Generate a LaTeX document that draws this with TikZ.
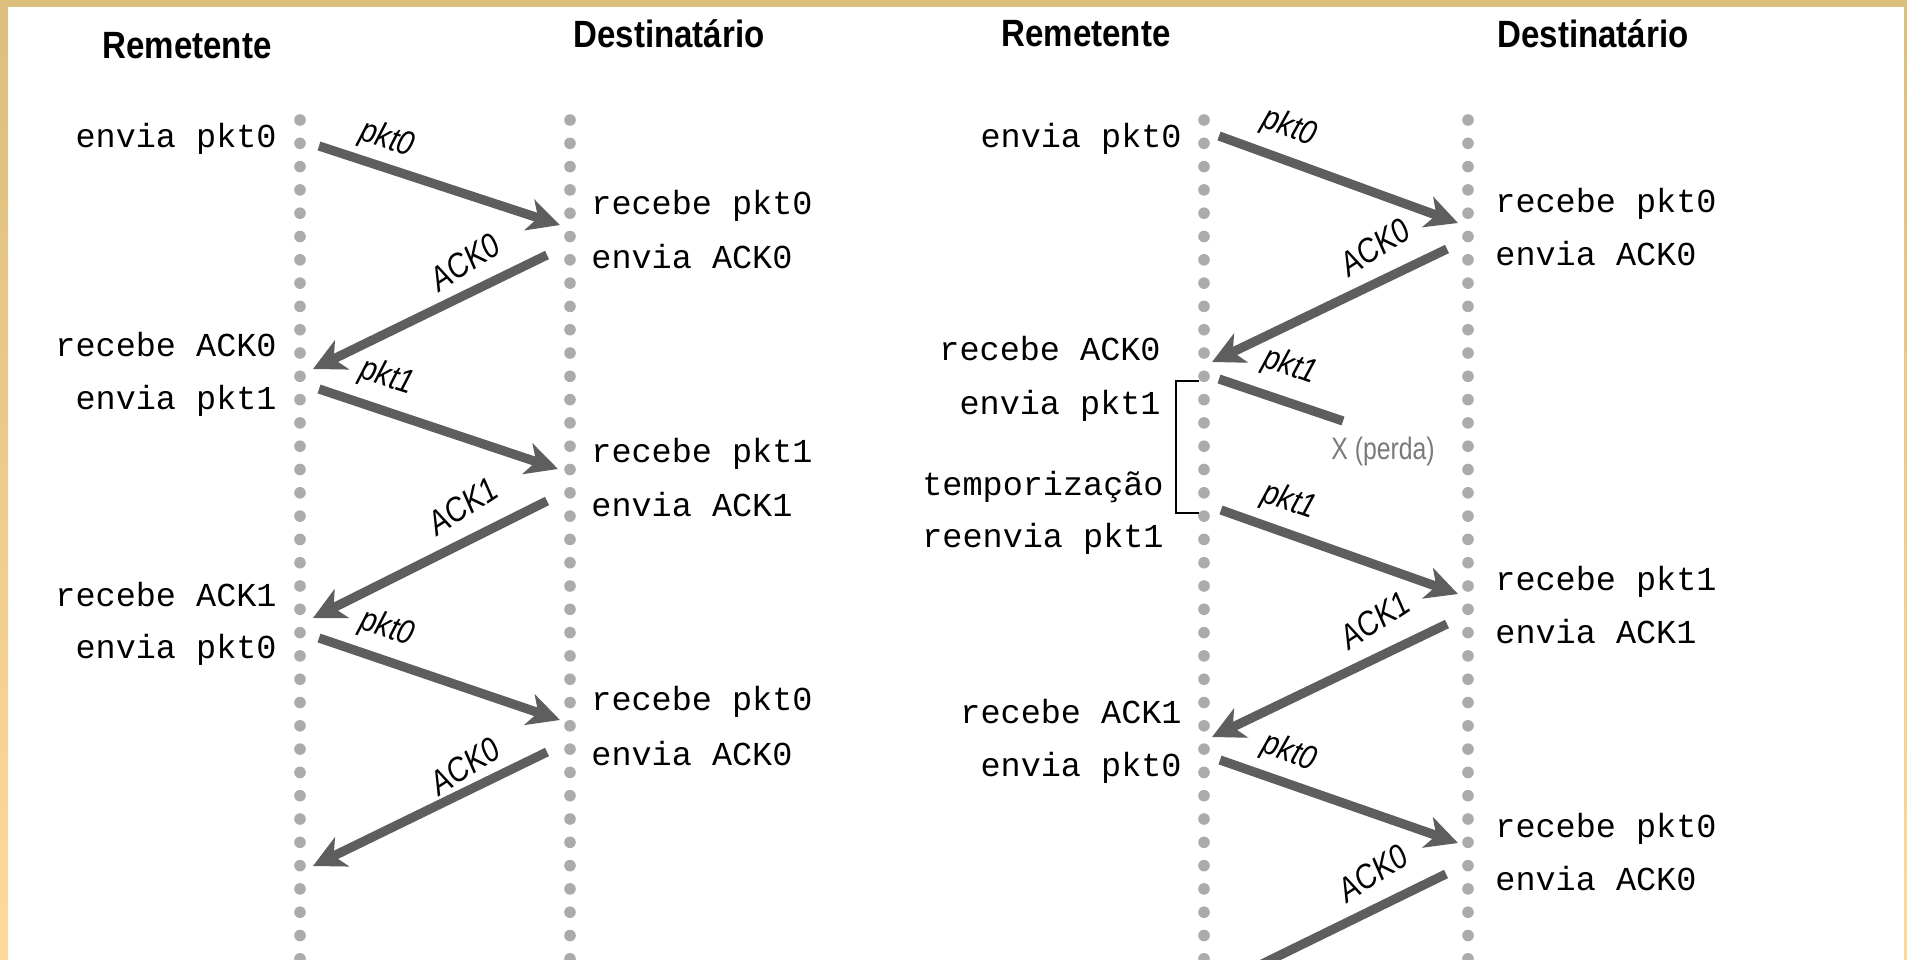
\documentclass[tikz,border=0pt]{standalone}
\usepackage{fontspec}
\setmainfont{Liberation Sans}
\newfontfamily\monofont{Liberation Mono}
\usetikzlibrary{arrows.meta}
\definecolor{arrowgray}{HTML}{5E5E5E}
\definecolor{dotgray}{HTML}{ABABAB}
\definecolor{goldtop}{HTML}{DBBF7C}
\definecolor{goldbot}{HTML}{FFD99A}
\definecolor{lossgray}{HTML}{7A7A7A}
\newcommand{\narrow}[2]{\scalebox{#1}[1]{#2}}
\begin{document}
\begin{tikzpicture}[x=0.5pt,y=-0.5pt,
  msg/.style={draw=arrowgray, line width=4.6pt, -{Stealth[length=16pt,width=16pt,inset=4.5pt]}},
  lostmsg/.style={draw=arrowgray, line width=4.6pt},
  timeline/.style={draw=dotgray, line width=5.8pt, line cap=round, dash pattern=on 0pt off 11.65pt},
  evtL/.style={anchor=mid east, font=\monofont\fontsize{16.75}{20}\selectfont, inner sep=0pt},
  evtR/.style={anchor=mid west, font=\monofont\fontsize{16.75}{20}\selectfont, inner sep=0pt},
  ttl/.style={font=\bfseries\fontsize{19}{22}\selectfont, inner sep=0pt},
  lbl/.style={font=\itshape\fontsize{17}{19}\selectfont, inner sep=0pt},
  bracket/.style={draw=black, line width=0.8pt},
]
\useasboundingbox (0,0) rectangle (1907,959);
\fill[white] (0,0) rectangle (1907,959);
\shade[top color=goldtop, bottom color=goldbot] (0,0) rectangle (8,959);
\shade[top color=goldtop, bottom color=goldbot] (1904,0) rectangle (1907,959);
\fill[goldtop] (0,0) rectangle (1907,7);

% ---------------- titles
\node[ttl] (t1) at (187,46) {\narrow{0.87}{Remetente}};
\node[ttl] (t2) at (669,34) {\narrow{0.87}{Destinatário}};
\node[ttl] (t3) at (1086,34) {\narrow{0.87}{Remetente}};
\node[ttl] (t4) at (1593,34) {\narrow{0.87}{Destinatário}};

% ---------------- timelines
\coordinate (sL0) at (300,120); \coordinate (sL1) at (300,970);
\coordinate (rL0) at (570,120); \coordinate (rL1) at (570,970);
\coordinate (sR0) at (1204,120); \coordinate (sR1) at (1204,970);
\coordinate (rR0) at (1468,120); \coordinate (rR1) at (1468,970);
\draw[timeline] (sL0) -- (sL1);
\draw[timeline] (rL0) -- (rL1);
\draw[timeline] (sR0) -- (sR1);
\draw[timeline] (rR0) -- (rR1);

% ---------------- left diagram events
\node[evtL] (l1) at (277,142) {envia pkt0};
\node[evtL] (l2) at (277,351) {recebe ACK0};
\node[evtL] (l3) at (277,404) {envia pkt1};
\node[evtL] (l4) at (277,601) {recebe ACK1};
\node[evtL] (l5) at (277,653) {envia pkt0};
\node[evtR] (l6) at (591,209) {recebe pkt0};
\node[evtR] (l7) at (591,263) {envia ACK0};
\node[evtR] (l8) at (591,457) {recebe pkt1};
\node[evtR] (l9) at (591,511) {envia ACK1};
\node[evtR] (l10) at (591,705) {recebe pkt0};
\node[evtR] (l11) at (591,760) {envia ACK0};

% left arrows
\coordinate (a1s) at (319,146); \coordinate (a1e) at (560,225);
\coordinate (a2s) at (547,255); \coordinate (a2e) at (313,369);
\coordinate (a3s) at (319,389); \coordinate (a3e) at (558,469);
\coordinate (a4s) at (547,501); \coordinate (a4e) at (313,618);
\coordinate (a5s) at (319,638); \coordinate (a5e) at (560,720);
\coordinate (a6s) at (547,752); \coordinate (a6e) at (313,866);
\draw[msg] (a1s) -- (a1e);
\draw[msg] (a2s) -- (a2e);
\draw[msg] (a3s) -- (a3e);
\draw[msg] (a4s) -- (a4e);
\draw[msg] (a5s) -- (a5e);
\draw[msg] (a6s) -- (a6e);
\node[lbl, rotate=-18] (m1) at (387,140) {\narrow{0.85}{pkt0}};
\node[lbl, rotate=33] (m2) at (465,262) {\narrow{0.85}{ACK0}};
\node[lbl, rotate=-18] (m3) at (387,378) {\narrow{0.85}{pkt1}};
\node[lbl, rotate=33] (m4) at (463,506) {\narrow{0.85}{ACK1}};
\node[lbl, rotate=-18] (m5) at (387,629) {\narrow{0.85}{pkt0}};
\node[lbl, rotate=33] (m6) at (465,766) {\narrow{0.85}{ACK0}};

% ---------------- right diagram events
\node[evtL] (r1) at (1182,142) {envia pkt0};
\node[evtL] (r2) at (1161,355) {recebe ACK0};
\node[evtL] (r3) at (1161,409) {envia pkt1};
\node[evtL] (r4) at (1164,490) {temporização};
\node[evtL] (r5) at (1164,542) {reenvia pkt1};
\node[evtL] (r6) at (1182,718) {recebe ACK1};
\node[evtL] (r7) at (1182,771) {envia pkt0};
\node[evtR] (r8) at (1495,207) {recebe pkt0};
\node[evtR] (r9) at (1495,260) {envia ACK0};
\node[evtR] (r10) at (1495,585) {recebe pkt1};
\node[evtR] (r11) at (1495,638) {envia ACK1};
\node[evtR] (r12) at (1495,832) {recebe pkt0};
\node[evtR] (r13) at (1495,885) {envia ACK0};

% timeout bracket
\coordinate (bk1) at (1199,381); \coordinate (bk2) at (1176,381);
\coordinate (bk3) at (1176,513); \coordinate (bk4) at (1199,513);
\draw[bracket] (bk1) -- (bk2) -- (bk3) -- (bk4);

% right arrows
\coordinate (b1s) at (1219,136); \coordinate (b1e) at (1458,223);
\coordinate (b2s) at (1447,249); \coordinate (b2e) at (1212,362);
\coordinate (b3s) at (1219,379); \coordinate (b3e) at (1343,421);
\coordinate (b4s) at (1221,510); \coordinate (b4e) at (1458,594);
\coordinate (b5s) at (1447,624); \coordinate (b5e) at (1212,737);
\coordinate (b6s) at (1220,760); \coordinate (b6e) at (1458,843);
\coordinate (b7s) at (1446,874); \coordinate (b7e) at (1262,964);
\draw[msg] (b1s) -- (b1e);
\draw[msg] (b2s) -- (b2e);
\draw[lostmsg] (b3s) -- (b3e);
\draw[msg] (b4s) -- (b4e);
\draw[msg] (b5s) -- (b5e);
\draw[msg] (b6s) -- (b6e);
\draw[lostmsg] (b7s) -- (b7e);
\node[lbl, rotate=-20] (n1) at (1289,128) {\narrow{0.85}{pkt0}};
\node[lbl, rotate=33] (n2) at (1375,247) {\narrow{0.85}{ACK0}};
\node[lbl, rotate=-19] (n3) at (1290,367) {\narrow{0.85}{pkt1}};
\node[lbl, rotate=-19] (n4) at (1289,502) {\narrow{0.85}{pkt1}};
\node[lbl, rotate=33] (n5) at (1375,620) {\narrow{0.85}{ACK1}};
\node[lbl, rotate=-20] (n6) at (1289,753) {\narrow{0.85}{pkt0}};
\node[lbl, rotate=33] (n7) at (1373,873) {\narrow{0.85}{ACK0}};
\node[anchor=mid west, inner sep=0pt, text=lossgray, font=\fontsize{15.5}{18}\selectfont] (loss) at (1331,454) {\narrow{0.8}{X (perda)}};
\end{tikzpicture}
\end{document}
